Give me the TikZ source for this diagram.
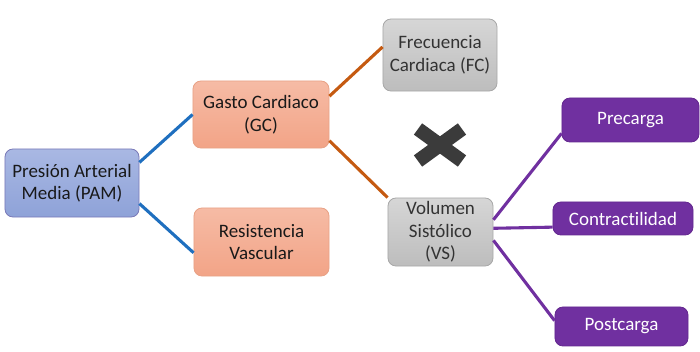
\documentclass[tikz,border=0pt]{standalone}
\usepackage{fontspec}
\setmainfont[Ligatures=NoCommon]{Carlito}
\begin{document}
\begin{tikzpicture}[
    x=.025cm,y=-.025cm,
    font=\fontsize{13.5}{16}\selectfont,
    box/.style={rectangle,rounded corners=.2cm,line width=.6pt,align=center,
        inner sep=2pt},
    bluebox/.style={box,draw=blue!30!gray!80,top color=pamtop,bottom color=pambot,
        text=black!90},
    orangebox/.style={box,draw=orangeedge,top color=gctop,bottom color=gcbot,
        text=black!90},
    graybox/.style={box,draw=grayedge,top color=graytop,bottom color=graybot,
        text=black!80},
    purplebox/.style={box,draw=purpleedge,fill=purplefill,text=white},
    link/.style={line width=2.2pt},
    cross/.style={line width=.35cm,draw=crossgray}
]
    \definecolor{pamtop}{HTML}{A9B8E3}
    \definecolor{pambot}{HTML}{8EA2D8}
    \definecolor{gctop}{HTML}{F6BBA5}
    \definecolor{gcbot}{HTML}{F2A487}
    \definecolor{orangeedge}{HTML}{E8A286}
    \definecolor{graytop}{HTML}{D6D6D6}
    \definecolor{graybot}{HTML}{BDBDBD}
    \definecolor{grayedge}{HTML}{A8A8A8}
    \definecolor{purplefill}{HTML}{7030A0}
    \definecolor{purpleedge}{HTML}{64288F}
    \definecolor{crossgray}{HTML}{3B3B3B}
    \definecolor{bluelink}{HTML}{1F6FBF}
    \definecolor{orangelink}{HTML}{C55A11}

    \useasboundingbox (0,0) rectangle (700,352);

    % Left column.
    \node[bluebox,minimum width=3.35cm,minimum height=1.7cm] (pam) at (72,183)
        {Presión Arterial\\Media (PAM)};

    % Middle column.
    \node[orangebox,minimum width=3.4cm,minimum height=1.675cm] (gc) at (261,114.5)
        {Gasto Cardiaco\\(GC)};
    \node[orangebox,minimum width=3.375cm,minimum height=1.7cm] (rv) at (261.5,242)
        {Resistencia\\Vascular};

    % Factors of the cardiac output.
    \node[graybox,minimum width=2.85cm,minimum height=1.8cm] (fc) at (440,55)
        {Frecuencia\\Cardiaca (FC)};
    \node[graybox,minimum width=2.625cm,minimum height=1.7cm] (vs) at (440.5,232)
        {Volumen\\Sistólico\\(VS)};

    % Right column.
    \node[purplebox,minimum width=3.425cm,minimum height=1.1cm] (pre) at (630.5,120)
        {Precarga};
    \node[purplebox,minimum width=3.5cm,minimum height=.825cm] (con) at (623,218.5)
        {Contractilidad};
    \node[purplebox,minimum width=3.325cm,minimum height=.975cm] (post) at (621.5,326.5)
        {Postcarga};

    % Connectors.
    \draw[link,bluelink] (pam.17) -- (gc.west);
    \draw[link,bluelink] (pam.-17) -- (rv.189);
    \draw[link,orangelink] (gc.15) -- (fc.172);
    \draw[link,orangelink] (gc.-21) -- (vs.north west);
    \draw[link,purplefill] (vs.13) -- (pre.191);
    \draw[link,purplefill] (vs.4) -- (con.187);
    \draw[link,purplefill] (vs.-9) -- (post.175);

    % Multiplication sign between FC and VS.
    \draw[cross] (418,129) -- (462,161);
    \draw[cross] (418,161) -- (462,129);
\end{tikzpicture}
\end{document}
